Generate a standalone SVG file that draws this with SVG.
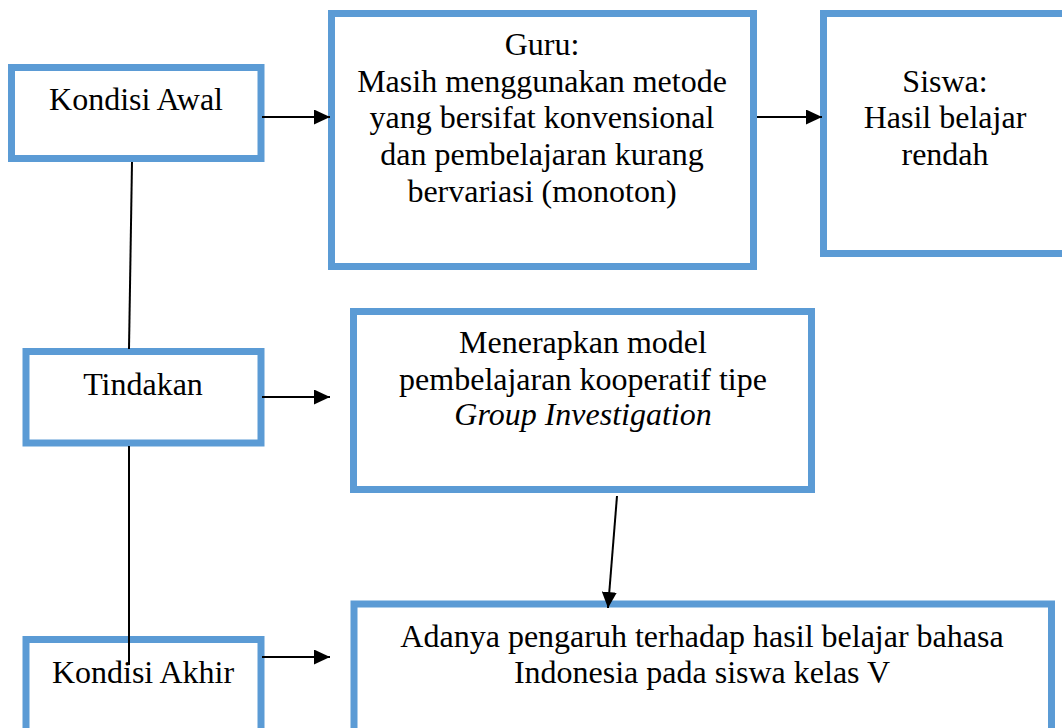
<svg xmlns="http://www.w3.org/2000/svg" width="1062" height="728" viewBox="0 0 1062 728">
<style>
.box{fill:#ffffff;stroke:#5b9bd5;stroke-width:7}
.t{font-family:"Liberation Serif","Times New Roman",serif;font-size:32px;fill:#000000;text-anchor:middle}
.i{font-style:italic}
.c{stroke:#000000;stroke-width:2;fill:none}
</style>
<defs>
<marker id="ah" markerUnits="userSpaceOnUse" markerWidth="16" markerHeight="15" refX="16" refY="7.5" orient="auto">
<path d="M0,0 L16,7.5 L0,15 z" fill="#000000"/>
</marker>
</defs>
<rect width="1062" height="728" fill="#ffffff"/>
<g id="kondisi-awal">
<rect class="box" x="11.5" y="67.5" width="249.5" height="91"/>
<text class="t" x="136" y="110">Kondisi Awal</text>
</g>
<g id="guru">
<rect class="box" x="331.5" y="13.5" width="422" height="253"/>
<text class="t" x="542" y="55">Guru:</text>
<text class="t" x="542" y="92">Masih menggunakan metode</text>
<text class="t" x="542" y="128">yang bersifat konvensional</text>
<text class="t" x="542" y="165">dan pembelajaran kurang</text>
<text class="t" x="542" y="202">bervariasi (monoton)</text>
</g>
<g id="siswa">
<rect class="box" x="823.5" y="13.5" width="250" height="240"/>
<text class="t" x="945" y="92">Siswa:</text>
<text class="t" x="945" y="128">Hasil belajar</text>
<text class="t" x="945" y="165">rendah</text>
</g>
<g id="tindakan">
<rect class="box" x="26" y="351.5" width="235" height="91.5"/>
<text class="t" x="143" y="395">Tindakan</text>
</g>
<g id="group-investigation">
<rect class="box" x="353.5" y="311.5" width="458" height="178"/>
<text class="t" x="583" y="353">Menerapkan model</text>
<text class="t" x="583" y="390">pembelajaran kooperatif tipe</text>
<text class="t i" x="583" y="425">Group Investigation</text>
</g>
<g id="kondisi-akhir">
<rect class="box" x="26" y="639.5" width="235" height="120"/>
<text class="t" x="143" y="683">Kondisi Akhir</text>
</g>
<g id="hasil">
<rect class="box" x="354" y="604" width="697.5" height="150"/>
<text class="t" x="702" y="647">Adanya pengaruh terhadap hasil belajar bahasa</text>
<text class="t" x="702" y="683">Indonesia pada siswa kelas V</text>
</g>
<g id="connectors">
<line class="c" x1="132" y1="162" x2="129" y2="349"/>
<line class="c" x1="129" y1="446" x2="129" y2="665"/>
<line class="c" x1="262" y1="117" x2="330" y2="117" marker-end="url(#ah)"/>
<line class="c" x1="757" y1="117" x2="822" y2="117" marker-end="url(#ah)"/>
<line class="c" x1="262" y1="397" x2="330" y2="397" marker-end="url(#ah)"/>
<line class="c" x1="262" y1="657" x2="330" y2="657" stroke-width="3" marker-end="url(#ah)"/>
<line class="c" x1="617" y1="496" x2="608" y2="608" marker-end="url(#ah)"/>
</g>
</svg>
